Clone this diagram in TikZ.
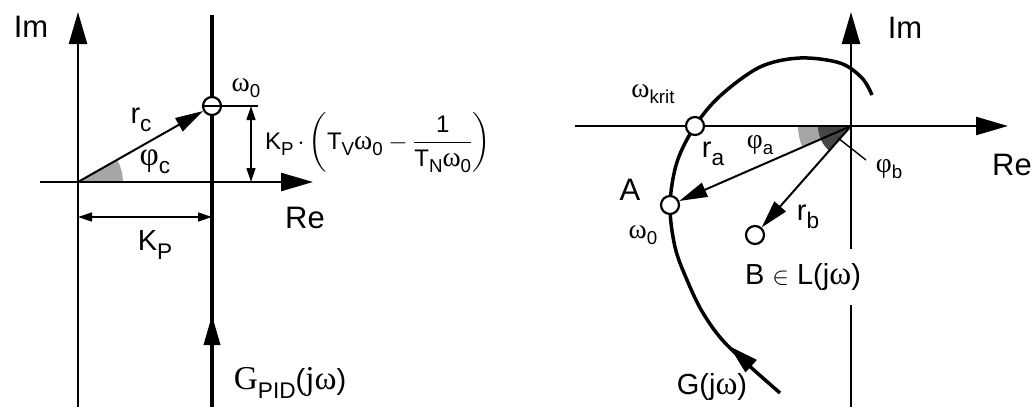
\documentclass[tikz,border=0pt]{standalone}
\usepackage{amsmath}
\usepackage{fontspec}
\setmainfont{Liberation Sans}
\newfontfamily\grkfont[Scale=1.15]{Liberation Serif}
\usetikzlibrary{arrows.meta}
\newcommand{\omg}{{\grkfont ω}}
\newcommand{\phg}{{\grkfont φ}}
\newcommand{\lo}[1]{\raisebox{-0.28em}{\scalebox{0.78}{#1}}}

\begin{document}
\begin{tikzpicture}[
  x=1pt, y=-1pt,
  axis/.style={line width=2.5pt, -{Triangle[length=32pt,width=18pt]}},
  locus/.style={line width=3.5pt},
  vec/.style={line width=2pt, -{Triangle[length=28pt,width=15pt]}},
  dirarr/.style={line width=3.5pt, -{Triangle[length=30pt,width=16pt]}},
  dim/.style={line width=1.4pt, {Triangle[length=14pt,width=9pt]}-{Triangle[length=14pt,width=9pt]}},
  pt/.style={circle, draw, fill=white, line width=2.2pt, minimum size=18pt, inner sep=0pt},
  big/.style={font=\fontsize{31}{35}\selectfont, inner sep=1pt},
  lbl/.style={font=\fontsize{29}{35}\selectfont, inner sep=1pt},
  sml/.style={font=\fontsize{24}{30}\selectfont, inner sep=1pt}
]
\useasboundingbox (0,0) rectangle (1036,407);

% left plane: PID controller
\coordinate (o1) at (78,182);
\coordinate (im1b) at (78,407);
\coordinate (im1t) at (78,12);
\coordinate (re1l) at (40,182);
\coordinate (re1r) at (313,182);
\coordinate (pidb) at (212,407);
\coordinate (pidt) at (212,15);
\coordinate (pida) at (212,360);
\coordinate (pidm) at (212,315);

\fill[black!35] (o1) -- ++(0:45) arc[start angle=0, end angle=-29.6, radius=45] -- cycle;
\draw[axis] (im1b) -- (im1t);
\draw[axis] (re1l) -- (re1r);
\draw[locus] (pidb) -- (pidt);
\draw[dirarr] (pida) -- (pidm);
\node[pt] (w0) at (212,106) {};

% dimensions
\coordinate (tick) at (258,106);
\coordinate (d1t) at (251,106);
\coordinate (d1b) at (251,182);
\coordinate (d2l) at (78,217);
\coordinate (d2r) at (212,217);
\draw[line width=1.4pt] (w0.west) -- (tick);
\draw[dim] (d1t) -- (d1b);
\draw[dim] (d2l) -- (d2r);
\draw[vec] (o1) -- (w0);

\node[big] (im1) at (31,27) {Im};
\node[big] (re1) at (305,218) {Re};
\node[lbl] (rc) at (141,120) {r\lo{c}};
\node[lbl] (phic) at (155,162) {\phg\lo{c}};
\node[sml] (w0l) at (246,88) {\omg\lo{0}};
\node[lbl] (kp) at (155,245) {K\lo{P}};
\node[lbl] (gpid) at (290,383) {{\grkfont G}\lo{PID}({\grkfont j}\omg)};
\node[sml, anchor=west] (imexp) at (264,143) {K\lo{P}\,$\cdot\left(\text{T\lo{V}\omg\lo{0}} - \dfrac{\text{1}}{\text{T\lo{N}\omg\lo{0}}}\right)$};

% right plane: Nyquist locus
\coordinate (o2) at (851,126);
\coordinate (im2b) at (851,407);
\coordinate (im2t) at (851,12);
\coordinate (re2l) at (575,126);
\coordinate (re2r) at (1008,126);
\coordinate (pbs) at (838,138);
\coordinate (pbe) at (866,160);
\coordinate (ga1) at (751,366);
\coordinate (ga2) at (729,346);

\fill[black!35] (o2) -- ++(180:53) arc[start angle=180, end angle=156.4, radius=53] -- cycle;
\fill[black!72] (o2) -- ++(180:33) arc[start angle=180, end angle=131.4, radius=33] -- cycle;
\draw[axis] (im2b) -- (im2t);
\draw[axis] (re2l) -- (re2r);
\draw[locus] plot[smooth, tension=0.55] coordinates {
  (780,393) (727,345) (703,313) (687,280) (675,247) (670,205) (677,162)
  (695,126) (720,96) (760,67) (800,58) (840,63) (862,78) (872,95)};
\draw[dirarr] (ga1) -- (ga2);
\node[pt] (wk) at (695,126) {};
\node[pt] (pa) at (670,205) {};
\node[pt] (pb) at (755,235) {};
\draw[vec] (o2) -- (pa);
\draw[vec] (o2) -- (pb);
\draw[line width=1.4pt] (pbs) -- (pbe);

\node[big] (im2) at (905,28) {Im};
\node[big] (re2) at (1012,165) {Re};
\node[sml] (wkrit) at (653,94) {\omg\lo{krit}};
\node[big] (alab) at (630,190) {A};
\node[sml] (w0r) at (643,235) {\omg\lo{0}};
\node[lbl] (ra) at (713,154) {r\lo{a}};
\node[sml] (phia) at (760,145) {\phg\lo{a}};
\node[sml] (phib) at (889,169) {\phg\lo{b}};
\node[lbl] (rb) at (808,217) {r\lo{b}};
\node[lbl, fill=white, inner ysep=14pt] (bl) at (803,277) {B $\in$ L(j\omg)};
\node[lbl] (g) at (712,387) {G(j\omg)};

\end{tikzpicture}
\end{document}
